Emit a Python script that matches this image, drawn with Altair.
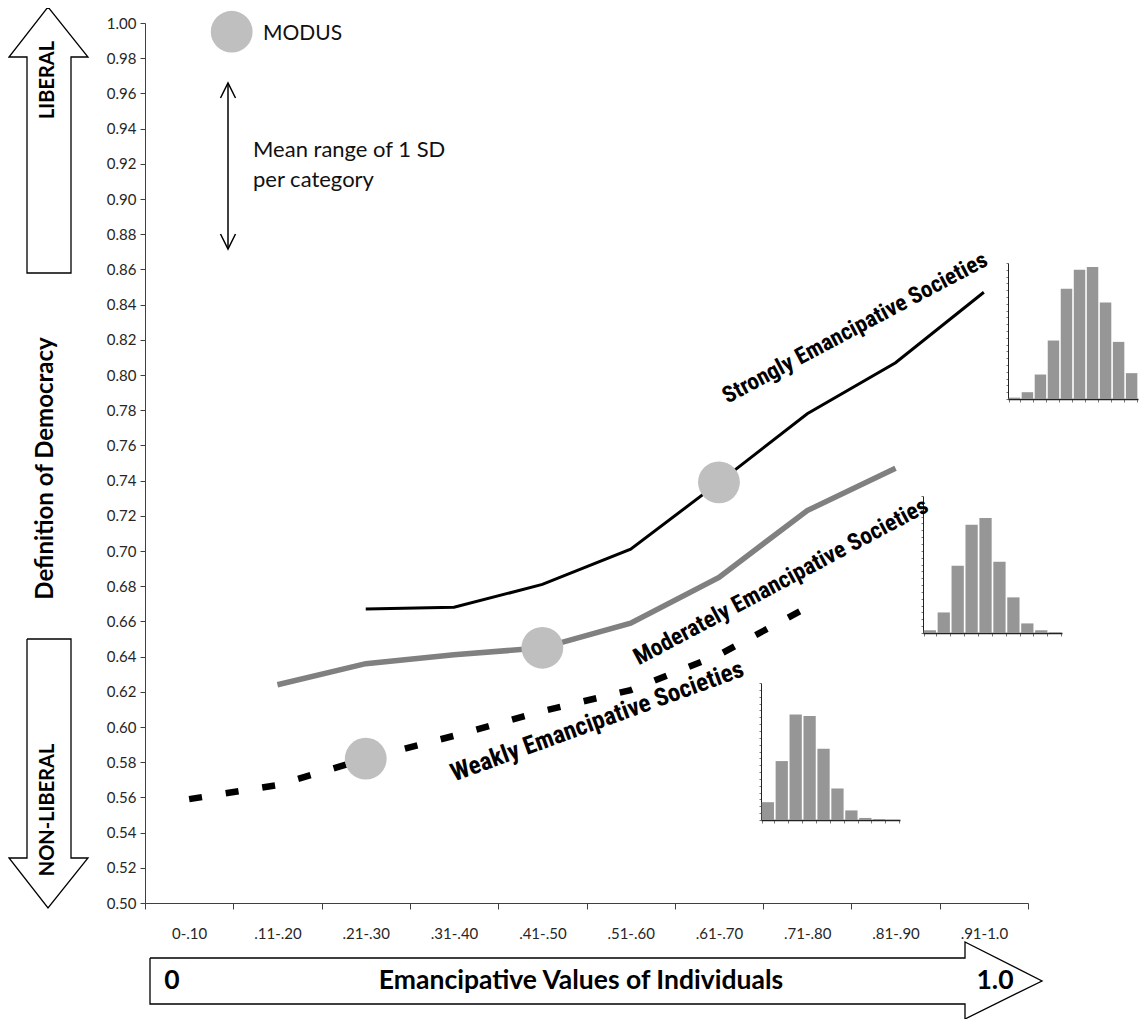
import altair as alt
import pandas as pd

# ---------------- data ----------------
categories = ["0-.10", ".11-.20", ".21-.30", ".31-.40", ".41-.50",
              ".51-.60", ".61-.70", ".71-.80", ".81-.90", ".91-1.0"]
strong = [None, None, 0.667, 0.668, 0.681, 0.701, 0.739, 0.778, 0.807, 0.847]
moderate = [None, 0.624, 0.636, 0.641, 0.645, 0.659, 0.685, 0.723, 0.747, None]
weak = [0.559, 0.567, 0.582, 0.595, 0.609, 0.621, 0.641, 0.668, None, None]
hist_strong = [1, 5, 18, 43, 81, 95, 97, 71, 42, 19]
hist_moderate = [2, 15, 49, 79, 84, 52, 26, 7, 2, 0.5]
hist_weak = [13, 43, 77, 76, 52, 23, 7, 1.5, 0.7, 0.2]
y_ticks = [round(0.50 + 0.02 * i, 2) for i in range(26)]
series_names = ["Strongly Emancipative Societies",
                "Moderately Emancipative Societies",
                "Weakly Emancipative Societies"]

# ---------------- layout ----------------
W, H = 883, 880
PAD_L, PAD_T, PAD_R, PAD_B = 137, 15, 112, 116
OX, OY = 8 + PAD_L, 8 + PAD_T

FONT = "Lato, 'Open Sans', sans-serif"
FONT_COND = "'Roboto Condensed', 'DejaVu Sans Condensed', 'Liberation Sans Narrow', Roboto, sans-serif"


def dx(px):
    return (px - OX) / W * 10


def dy(py):
    return 1.0 - (py - OY) / H * 0.5


xs = alt.Scale(domain=[0, 10], nice=False, zero=False)
ys = alt.Scale(domain=[0.5, 1.0], nice=False, zero=False)

label_js = "[" + ",".join("'%s'" % c for c in categories) + "]"
x_axis = alt.Axis(orient="bottom", values=list(range(11)),
                  labelExpr=f"datum.value < 10 ? {label_js}[datum.value] : ''",
                  labelOffset=W / 20, tickSize=6, labelPadding=17,
                  labelFont=FONT, labelFontSize=15, labelColor="#262626",
                  domainColor="#404040", tickColor="#404040",
                  labelOverlap=False, labelBound=False, labelFlush=False,
                  title=None, grid=False)
y_axis = alt.Axis(orient="left", values=y_ticks, format=".2f", tickSize=5, labelPadding=4,
                  labelFont=FONT, labelFontSize=15, labelColor="#262626",
                  domainColor="#404040", tickColor="#404040", grid=False,
                  title="Definition of Democracy", titleX=-100, titleY=445,
                  titleAngle=270, titleAlign="center", titleBaseline="middle",
                  titleFont=FONT, titleFontSize=24, titleFontWeight="bold",
                  titleColor="black")


def X(field="x", axis=None):
    return alt.X(f"{field}:Q", scale=xs, axis=axis)


def Y(field="y", axis=None):
    return alt.Y(f"{field}:Q", scale=ys, axis=axis)


def series_df(vals):
    return pd.DataFrame([{"x": i + 0.5, "y": v, "cat": categories[i]}
                         for i, v in enumerate(vals) if v is not None])


# lines
strong_line = alt.Chart(series_df(strong)).mark_line(
    color="black", strokeWidth=3).encode(x=X(axis=x_axis), y=Y(axis=y_axis))
moderate_line = alt.Chart(series_df(moderate)).mark_line(
    color="#808080", strokeWidth=5.5, strokeCap="butt").encode(x=X(), y=Y())
weak_line = alt.Chart(series_df(weak)).mark_line(
    color="black", strokeWidth=6.5, strokeDash=[13, 24], strokeCap="butt").encode(x=X(), y=Y())

# modus circles (peak of each histogram)
modus_rows = []
for vals, hist in [(strong, hist_strong), (moderate, hist_moderate), (weak, hist_weak)]:
    i = max(range(len(hist)), key=lambda k: hist[k])
    modus_rows.append({"x": i + 0.5, "y": vals[i]})
modus_rows.append({"x": dx(231.7), "y": dy(31.7)})  # legend symbol
circles = alt.Chart(pd.DataFrame(modus_rows)).mark_circle(
    color="#BFBFBF", opacity=1, size=1750).encode(x=X(), y=Y())


def text_layer(rows, **kw):
    return alt.Chart(pd.DataFrame(rows)).mark_text(**kw).encode(x=X(), y=Y(), text="t:N")


modus_text = text_layer([{"x": dx(263), "y": dy(34), "t": "MODUS"}],
                        align="left", baseline="middle", font=FONT, fontSize=21, color="#111")
sd_text = text_layer([{"x": dx(253), "y": dy(150), "t": "Mean range of 1 SD"},
                      {"x": dx(253), "y": dy(180), "t": "per category"}],
                     align="left", baseline="middle", font=FONT, fontSize=22, color="#111")

strong_lab = text_layer([{"x": dx(855), "y": dy(328), "t": series_names[0]}],
                        align="center", baseline="middle", angle=332, font=FONT_COND,
                        fontSize=23, fontWeight="bold", color="black")
moderate_lab = text_layer([{"x": dx(781), "y": dy(582), "t": series_names[1]}],
                          align="center", baseline="middle", angle=332, font=FONT_COND,
                          fontSize=23.5, fontWeight="bold", color="black")
weak_lab = text_layer([{"x": dx(597), "y": dy(721), "t": series_names[2]}],
                      align="center", baseline="middle", angle=340, font=FONT_COND,
                      fontSize=25, fontWeight="bold", color="black")

liberal_txt = text_layer([{"x": dx(48), "y": dy(80), "t": "LIBERAL"},
                          {"x": dx(48), "y": dy(810), "t": "NON-LIBERAL"}],
                         align="center", baseline="middle", angle=270, font=FONT,
                         fontSize=20, fontWeight="bold", color="black")
bottom_txt = text_layer([{"x": dx(172), "y": dy(981), "t": "0"},
                         {"x": dx(581), "y": dy(981), "t": "Emancipative Values of Individuals"},
                         {"x": dx(995), "y": dy(981), "t": "1.0"}],
                        align="center", baseline="middle", font=FONT,
                        fontSize=26.5, fontWeight="bold", color="black")

# outline arrows (decorations)
arrow_shapes = {
    "up": [(48, 7), (88, 57), (71, 57), (71, 273), (27, 273), (27, 57), (9, 57), (48, 7)],
    "down": [(27, 639), (71, 639), (71, 858), (88, 858), (48, 908), (9, 858), (27, 858), (27, 639)],
    "right": [(150, 958), (965, 958), (965, 942), (1042, 981), (965, 1019), (965, 1004), (150, 1004), (150, 958)],
}
rows = []
for g, pts in arrow_shapes.items():
    for o, (px, py) in enumerate(pts):
        rows.append({"x": dx(px), "y": dy(py), "g": g, "o": o})
big_arrows = alt.Chart(pd.DataFrame(rows)).mark_line(
    color="black", strokeWidth=1.3, strokeJoin="miter").encode(
    x=X(), y=Y(), detail="g:N", order="o:Q")

sd_shapes = {
    "shaft": [(228, 84), (228, 248)],
    "top": [(220.5, 98), (228, 83), (235.5, 98)],
    "bot": [(220.5, 234), (228, 249), (235.5, 234)],
}
rows = []
for g, pts in sd_shapes.items():
    for o, (px, py) in enumerate(pts):
        rows.append({"x": dx(px), "y": dy(py), "g": g, "o": o})
sd_arrow = alt.Chart(pd.DataFrame(rows)).mark_line(
    color="black", strokeWidth=1.5).encode(x=X(), y=Y(), detail="g:N", order="o:Q")


# small histograms, each on its own scales placed inside the plot
def hist_layer(vals, x0, x1, ytop, ybot):
    df = pd.DataFrame({"bin": categories, "v": vals})
    return alt.Chart(df).mark_bar(color="#969696").encode(
        x=alt.X("bin:N", sort=categories,
                scale=alt.Scale(range=[x0 - OX, x1 - OX], paddingInner=0.12, paddingOuter=0.05),
                axis=alt.Axis(orient="bottom", offset=(ybot - OY) - H, labels=False,
                              tickBand="extent", tickSize=3, title=None, grid=False,
                              domainColor="#222", domainWidth=1.5, tickColor="#777")),
        y=alt.Y("v:Q", scale=alt.Scale(domain=[0, 100], range=[ybot - OY, ytop - OY], nice=False),
                axis=alt.Axis(orient="left", offset=-(x0 - OX), labels=False,
                              values=list(range(0, 101, 5)), tickSize=2, title=None,
                              grid=False, domainColor="#222", tickColor="#777")),
    )


h_strong = hist_layer(hist_strong, 1008, 1138, 263, 399)
h_moderate = hist_layer(hist_moderate, 923, 1062, 496, 633)
h_weak = hist_layer(hist_weak, 761, 900, 683, 820)

chart = alt.layer(
    strong_line, moderate_line, weak_line, circles,
    modus_text, sd_text, sd_arrow, strong_lab, moderate_lab, weak_lab,
    big_arrows, liberal_txt, bottom_txt,
    h_strong, h_moderate, h_weak,
).resolve_scale(
    x="independent", y="independent"
).properties(
    width=W, height=H,
    padding={"left": PAD_L, "top": PAD_T, "right": PAD_R, "bottom": PAD_B},
    autosize=alt.AutoSizeParams(type="none"),
).configure_view(stroke=None).configure_axis(grid=False)

chart.save("out.html", embed_options={"renderer": "svg", "actions": False})
